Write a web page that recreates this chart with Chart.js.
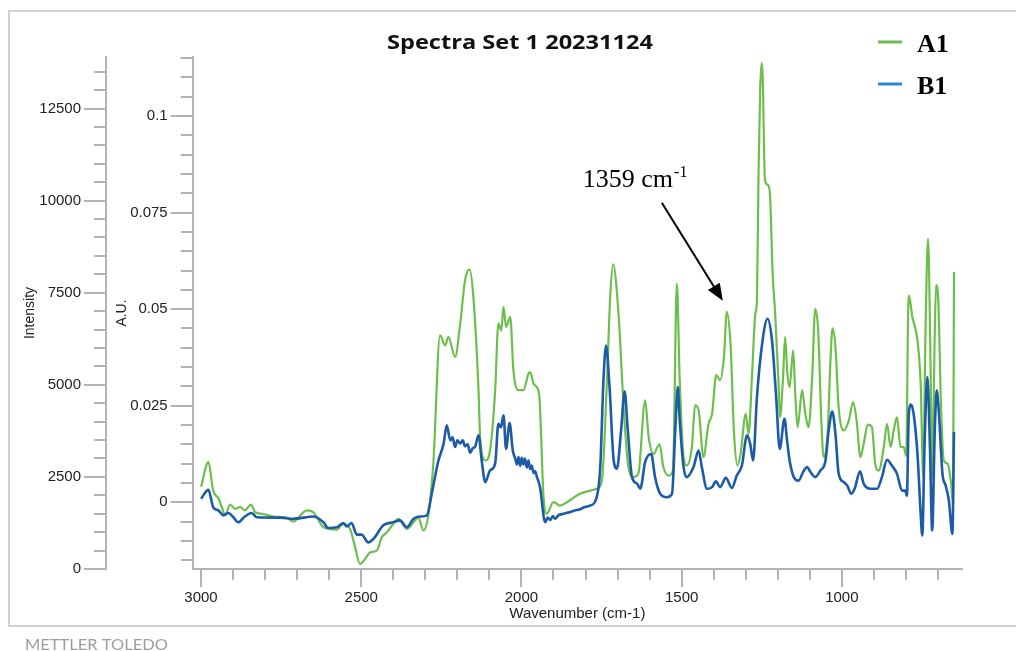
<!DOCTYPE html>
<html>
<head>
<meta charset="utf-8">
<script src="https://cdn.jsdelivr.net/npm/chart.js@4.4.1/dist/chart.umd.min.js"></script>
<style>
html,body{margin:0;padding:0;background:#fff;}
#wrap{width:1016px;height:651px;position:relative;}
</style>
</head>
<body>
<div id="wrap"><canvas id="c" width="1016" height="651"></canvas></div>
<script>
// ---- data ----
const seriesNames = ['A1', 'B1'];
const chartTitle = 'Spectra Set 1 20231124';
const xTitle = 'Wavenumber (cm-1)';
const auTitle = 'A.U.';
const intensityTitle = 'Intensity';
const brandText = 'METTLER TOLEDO';
const annotationWavenumber = 1359;
const annotationPeakA1 = 0.0493;

const wavenumberTicks = [3000, 2500, 2000, 1500, 1000];
const auTicks = [0, 0.025, 0.05, 0.075, 0.1];
const intensityTicks = [0, 2500, 5000, 7500, 10000, 12500];

const wavenumberA1 = [3000,2977,2962,2946,2935,2925,2909,2894,2878,2863,2844,2831,2810,2774,2732,2712,2670,2649,2618,2576,2556,2535,2519,2504,2488,2472,2451,2436,2420,2400,2384,2358,2337,2322,2306,2290,2275,2254,2238,2228,2207,2191,2176,2162,2150,2134,2129,2113,2098,2082,2072,2063,2056,2048,2035,2025,2009,1994,1978,1973,1962,1952,1944,1931,1921,1900,1879,1858,1817,1765,1749,1733,1723,1714,1697,1681,1666,1650,1635,1614,1603,1588,1569,1557,1541,1527,1515,1506,1494,1484,1468,1458,1447,1432,1416,1405,1392,1380,1368,1359,1347,1337,1326,1316,1300,1291,1281,1270,1265,1260,1255,1250,1247,1240,1230,1224,1216,1208,1198,1193,1184,1177,1170,1163,1152,1145,1138,1124,1114,1104,1093,1083,1074,1064,1057,1044,1036,1029,1020,1010,994,978,965,954,942,932,919,906,896,885,869,859,848,838,828,817,807,799,793,791,780,764,754,746,739,731,723,718,710,706,699,691,682,670,659,653,650];
const absorbanceA1 = [0.0040,0.0104,0.0030,0.0010,-0.0013,-0.0034,-0.0006,-0.0017,-0.0013,-0.0021,-0.0006,-0.0026,-0.0030,-0.0037,-0.0040,-0.0050,-0.0021,-0.0026,-0.0065,-0.0071,-0.0056,-0.0069,-0.0117,-0.0160,-0.0147,-0.0130,-0.0125,-0.0091,-0.0078,-0.0056,-0.0043,-0.0069,-0.0052,-0.0040,-0.0073,-0.0030,0.0100,0.0432,0.0406,0.0428,0.0376,0.0463,0.0575,0.0603,0.0531,0.0290,0.0169,0.0108,0.0134,0.0290,0.0463,0.0445,0.0506,0.0454,0.0480,0.0341,0.0290,0.0290,0.0333,0.0337,0.0307,0.0298,0.0272,0.0013,-0.0030,0.0000,-0.0009,0.0000,0.0022,0.0035,0.0056,0.0316,0.0532,0.0616,0.0488,0.0246,0.0091,0.0065,0.0074,0.0264,0.0169,0.0125,0.0150,0.0091,0.0069,0.0082,0.0566,0.0316,0.0117,0.0095,0.0143,0.0251,0.0238,0.0117,0.0203,0.0229,0.0329,0.0316,0.0376,0.0493,0.0402,0.0186,0.0095,0.0125,0.0229,0.0177,0.0316,0.0488,0.0523,0.0851,0.1067,0.1138,0.1102,0.0834,0.0821,0.0791,0.0592,0.0488,0.0316,0.0220,0.0316,0.0428,0.0333,0.0298,0.0393,0.0272,0.0194,0.0290,0.0229,0.0194,0.0316,0.0501,0.0445,0.0212,0.0117,0.0186,0.0359,0.0450,0.0402,0.0246,0.0186,0.0212,0.0259,0.0212,0.0117,0.0151,0.0201,0.0194,0.0100,0.0082,0.0143,0.0203,0.0143,0.0186,0.0220,0.0143,0.0143,0.0120,0.0500,0.0536,0.0480,0.0419,0.0307,0.0065,0.0437,0.0683,0.0350,0.0065,0.0437,0.0562,0.0523,0.0264,0.0108,0.0100,0.0048,-0.0004,0.0596];

const wavenumberB1 = [3000,2977,2962,2946,2930,2915,2899,2884,2863,2842,2826,2753,2712,2649,2618,2603,2576,2556,2545,2530,2514,2499,2478,2462,2431,2400,2379,2358,2337,2316,2295,2280,2259,2243,2233,2222,2215,2207,2200,2191,2183,2176,2168,2160,2152,2145,2134,2124,2113,2098,2082,2072,2064,2056,2048,2037,2027,2019,2014,2009,2004,1999,1994,1989,1983,1978,1973,1968,1962,1957,1952,1942,1926,1918,1910,1902,1895,1885,1869,1850,1836,1817,1800,1786,1765,1754,1744,1736,1725,1712,1702,1689,1678,1668,1655,1639,1629,1614,1595,1583,1567,1546,1530,1520,1512,1506,1494,1484,1463,1447,1437,1421,1405,1393,1380,1362,1343,1328,1312,1296,1286,1277,1265,1250,1232,1218,1205,1194,1179,1171,1163,1150,1135,1121,1108,1098,1083,1067,1051,1041,1030,1020,1010,994,983,971,960,943,932,911,890,875,859,844,828,812,802,797,791,784,776,764,754,749,742,733,725,718,710,704,697,686,676,666,655,650];
const absorbanceB1 = [0.0009,0.0032,-0.0013,-0.0021,-0.0034,-0.0028,-0.0039,-0.0052,-0.0037,-0.0028,-0.0039,-0.0040,-0.0043,-0.0037,-0.0052,-0.0067,-0.0065,-0.0054,-0.0063,-0.0054,-0.0084,-0.0084,-0.0104,-0.0095,-0.0060,-0.0052,-0.0047,-0.0065,-0.0043,-0.0037,-0.0034,0.0022,0.0108,0.0151,0.0199,0.0160,0.0168,0.0143,0.0160,0.0152,0.0160,0.0145,0.0150,0.0128,0.0140,0.0143,0.0173,0.0108,0.0052,0.0082,0.0100,0.0203,0.0194,0.0225,0.0138,0.0205,0.0134,0.0112,0.0098,0.0117,0.0094,0.0115,0.0098,0.0113,0.0090,0.0108,0.0086,0.0095,0.0076,0.0080,0.0066,0.0039,-0.0052,-0.0040,-0.0046,-0.0036,-0.0043,-0.0034,-0.0030,-0.0026,-0.0022,-0.0018,-0.0012,-0.0009,0.0013,0.0091,0.0316,0.0406,0.0298,0.0108,0.0087,0.0186,0.0287,0.0186,0.0065,0.0048,0.0035,0.0104,0.0125,0.0065,0.0022,0.0013,0.0022,0.0186,0.0298,0.0212,0.0091,0.0065,0.0091,0.0134,0.0091,0.0035,0.0039,0.0054,0.0039,0.0063,0.0037,0.0069,0.0095,0.0173,0.0151,0.0108,0.0272,0.0402,0.0475,0.0419,0.0272,0.0138,0.0216,0.0160,0.0108,0.0065,0.0056,0.0078,0.0091,0.0078,0.0065,0.0082,0.0108,0.0186,0.0235,0.0177,0.0074,0.0052,0.0043,0.0022,0.0035,0.0080,0.0048,0.0035,0.0035,0.0065,0.0110,0.0095,0.0074,0.0030,0.0030,0.0017,0.0229,0.0253,0.0229,0.0125,-0.0030,-0.0086,0.0143,0.0324,0.0143,-0.0073,0.0186,0.0290,0.0229,0.0074,0.0043,0.0004,-0.0082,0.0182];

// ---- styles ----
const GREEN = '#6cbf4c';
const BLUE = '#1d5ba6';
const LEGEND_BLUE = '#2a86d6';
const AXIS = '#b3b3b3';
const SANS = '"Liberation Sans", Arial, sans-serif';

function toPoints(xs, ys) { return xs.map((x, i) => ({x: x, y: ys[i]})); }

const minorTicks = {
  id: 'minorTicks',
  afterDraw(chart) {
    const ctx = chart.ctx;
    ctx.save();
    ctx.strokeStyle = AXIS;
    ctx.lineWidth = 2;
    const line = (x1, y1, x2, y2) => { ctx.beginPath(); ctx.moveTo(x1, y1); ctx.lineTo(x2, y2); ctx.stroke(); };
    const yi = chart.scales.intensity;
    for (let k = 0; k * 500 <= yi.max; k++) {
      const v = k * 500, y = Math.round(yi.getPixelForValue(v));
      const len = intensityTicks.includes(v) ? 22 : 12;
      line(yi.right - len, y, yi.right, y);
    }
    const ya = chart.scales.au;
    for (let k = -4; k <= 24; k++) {
      const v = k * 0.005;
      if (v < ya.min || v > ya.max) continue;
      const y = Math.round(ya.getPixelForValue(v));
      const major = auTicks.some(t => Math.abs(t - v) < 1e-9);
      const len = major ? 22 : 12;
      line(ya.right - len, y, ya.right, y);
    }
    const xs = chart.scales.x;
    for (let v = 700; v <= 3000; v += 100) {
      if (v < xs.min || v > xs.max) continue;
      const x = Math.round(xs.getPixelForValue(v));
      const len = wavenumberTicks.includes(v) ? 18 : 11;
      line(x, xs.top, x, xs.top + len);
    }
    ctx.restore();
  }
};

function fitText(ctx, text, x, y, targetW, align) {
  const w = ctx.measureText(text).width;
  ctx.save();
  ctx.translate(x, y);
  ctx.scale(targetW / w, 1);
  ctx.textAlign = align;
  ctx.fillText(text, 0, 0);
  ctx.restore();
}

const decor = {
  id: 'decor',
  beforeDraw(chart) {
    const ctx = chart.ctx;
    ctx.save();
    ctx.fillStyle = '#fff';
    ctx.fillRect(0, 0, chart.width, chart.height);
    ctx.strokeStyle = '#d2d2d2';
    ctx.lineWidth = 2;
    ctx.beginPath();
    ctx.moveTo(chart.width, 11); ctx.lineTo(9, 11); ctx.lineTo(9, 626); ctx.lineTo(chart.width, 626);
    ctx.stroke();
    ctx.restore();
  },
  afterDraw(chart) {
    const ctx = chart.ctx;
    const xs = chart.scales.x, ya = chart.scales.au;
    ctx.save();
    // title
    ctx.fillStyle = '#111';
    ctx.textBaseline = 'middle';
    ctx.font = 'bold 20px "Open Sans", sans-serif';
    fitText(ctx, chartTitle, 520, 43, 266, 'center');
    // legend
    const ds = chart.data.datasets;
    const legendColors = [GREEN, LEGEND_BLUE];
    ds.forEach((d, i) => {
      const y = 42 + i * 42;
      ctx.strokeStyle = legendColors[i];
      ctx.lineWidth = 3;
      ctx.beginPath(); ctx.moveTo(878, y); ctx.lineTo(902, y); ctx.stroke();
      ctx.fillStyle = '#000';
      ctx.textBaseline = 'alphabetic';
      ctx.textAlign = 'left';
      ctx.font = 'bold 26px "Liberation Serif", "Times New Roman", serif';
      ctx.fillText(d.label, 917, y + 10);
    });
    // annotation
    const tipX = xs.getPixelForValue(annotationWavenumber) - 4;
    const tipY = ya.getPixelForValue(annotationPeakA1) - 11;
    const tailX = tipX - 61, tailY = tipY - 98;
    const ang = Math.atan2(tipY - tailY, tipX - tailX);
    const headL = 17, headW = 7;
    const bx = tipX - headL * Math.cos(ang), by = tipY - headL * Math.sin(ang);
    ctx.strokeStyle = '#000';
    ctx.lineWidth = 2;
    ctx.beginPath(); ctx.moveTo(tailX, tailY); ctx.lineTo(bx, by); ctx.stroke();
    ctx.fillStyle = '#000';
    ctx.beginPath();
    ctx.moveTo(tipX, tipY);
    ctx.lineTo(bx + headW * Math.sin(ang), by - headW * Math.cos(ang));
    ctx.lineTo(bx - headW * Math.sin(ang), by + headW * Math.cos(ang));
    ctx.closePath(); ctx.fill();
    ctx.textAlign = 'left';
    ctx.textBaseline = 'alphabetic';
    ctx.font = '26px "Liberation Serif", "Times New Roman", serif';
    const main = annotationWavenumber + ' cm';
    const tx = tailX - 79, ty = tailY - 16;
    ctx.fillText(main, tx, ty);
    const mw = ctx.measureText(main).width;
    ctx.font = '16px "Liberation Serif", "Times New Roman", serif';
    ctx.fillText('-1', tx + mw + 1, ty - 10);
    // brand
    ctx.fillStyle = '#9d9d9d';
    ctx.textBaseline = 'middle';
    ctx.font = '16px Lato, "Open Sans", sans-serif';
    fitText(ctx, brandText, 25, 645, 143, 'left');
    ctx.restore();
  }
};

const tickFont = {family: SANS, size: 15};
const titleFont = {family: SANS, size: 14};

new Chart(document.getElementById('c'), {
  type: 'line',
  data: {
    datasets: [
      {label: seriesNames[0], data: toPoints(wavenumberA1, absorbanceA1), borderColor: GREEN, backgroundColor: GREEN,
       borderWidth: 2.2, pointRadius: 0, cubicInterpolationMode: 'monotone', yAxisID: 'au', xAxisID: 'x', order: 1},
      {label: seriesNames[1], data: toPoints(wavenumberB1, absorbanceB1), borderColor: BLUE, backgroundColor: BLUE,
       borderWidth: 2.6, pointRadius: 0, cubicInterpolationMode: 'monotone', yAxisID: 'au', xAxisID: 'x', order: 0}
    ]
  },
  options: {
    responsive: false,
    animation: false,
    events: [],
    layout: {padding: {top: 57, left: 10, right: 54, bottom: 20}},
    plugins: {legend: {display: false}, title: {display: false}, tooltip: {enabled: false}},
    scales: {
      x: {
        type: 'linear', position: 'bottom', reverse: true, min: 625, max: 3026,
        afterBuildTicks: s => { s.ticks = wavenumberTicks.map(v => ({value: v})); },
        afterFit: s => { s.height = 62; },
        grid: {display: false, drawTicks: false},
        border: {display: true, color: AXIS, width: 2},
        ticks: {color: '#222', font: tickFont, padding: 20, autoSkip: false, maxRotation: 0, callback: v => String(v)},
        title: {display: true, text: xTitle, color: '#222', font: {family: SANS, size: 15}, padding: {top: 0, bottom: 8}}
      },
      intensity: {
        type: 'linear', position: 'left', weight: 1, min: 0, max: 13900,
        afterBuildTicks: s => { s.ticks = intensityTicks.map(v => ({value: v})); },
        afterFit: s => { s.width = 96; },
        grid: {display: false, drawTicks: false},
        border: {display: true, color: AXIS, width: 2},
        ticks: {color: '#222', font: tickFont, padding: 25, autoSkip: false, callback: v => String(v)},
        title: {display: true, text: intensityTitle, color: '#222', font: titleFont, padding: {top: 12, bottom: 0}}
      },
      au: {
        type: 'linear', position: 'left', weight: 0, min: -0.0173, max: 0.1153,
        afterBuildTicks: s => { s.ticks = auTicks.map(v => ({value: v})); },
        afterFit: s => { s.width = 86.7; },
        grid: {display: false, drawTicks: false},
        border: {display: true, color: AXIS, width: 2},
        ticks: {color: '#222', font: tickFont, padding: 25, autoSkip: false, callback: v => String(v)},
        title: {display: true, text: auTitle, color: '#222', font: titleFont, padding: {top: 8, bottom: 0}}
      }
    }
  },
  plugins: [decor, minorTicks]
});
</script>
</body>
</html>
